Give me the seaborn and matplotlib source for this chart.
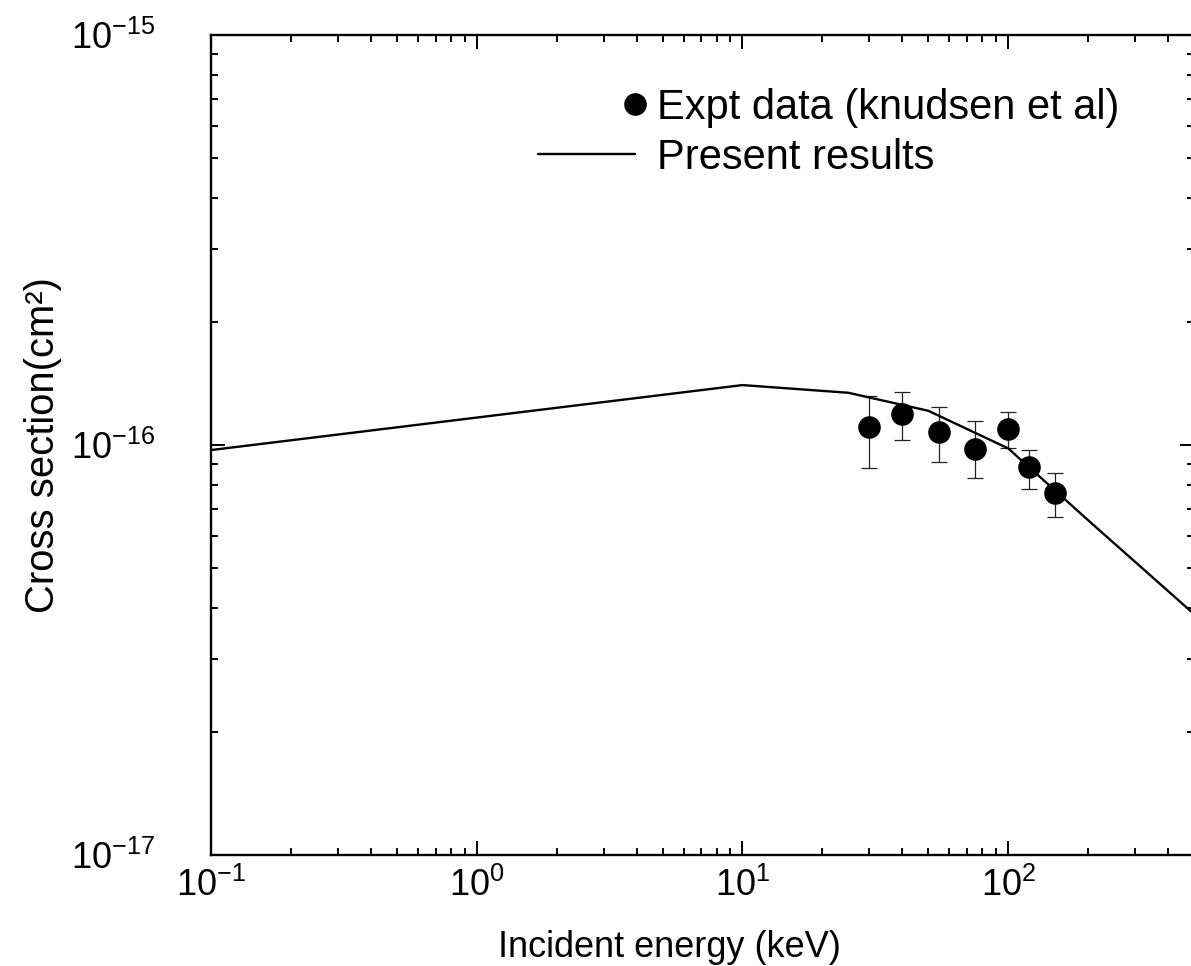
import numpy as np
import matplotlib
matplotlib.use("Agg")
import matplotlib.pyplot as plt
from matplotlib.lines import Line2D
from matplotlib.legend_handler import HandlerBase
from matplotlib.ticker import FixedLocator, LogLocator, NullFormatter
import seaborn as sns

# ---- data ----
theory_energy = [0.1, 10, 25, 50, 100, 200, 500]            # keV
theory_sigma = [0.972e-16, 1.400e-16, 1.341e-16, 1.212e-16, 0.981e-16, 0.655e-16, 0.387e-16]

expt_energy = [30, 40, 55, 75, 100, 120, 150]               # keV
expt_sigma = [1.104e-16, 1.188e-16, 1.077e-16, 0.976e-16, 1.094e-16, 0.884e-16, 0.764e-16]
expt_low = [0.879e-16, 1.028e-16, 0.907e-16, 0.831e-16, 0.982e-16, 0.782e-16, 0.668e-16]
expt_high = [1.318e-16, 1.344e-16, 1.240e-16, 1.146e-16, 1.206e-16, 0.974e-16, 0.856e-16]

x_major_ticks = [0.1, 1, 10, 100]
y_major_ticks = [1e-17, 1e-16, 1e-15]

legend_labels = ["Expt data (knudsen et al)", "Present results"]
x_label = "Incident energy (keV)"
y_label = "Cross section(cm\u00b2)"

# ---- style ----
sns.set_style("ticks")
plt.rcParams["font.family"] = ["Liberation Sans", "DejaVu Sans"]
plt.rcParams["mathtext.fontset"] = "custom"
plt.rcParams["mathtext.rm"] = "Liberation Sans"
plt.rcParams["mathtext.it"] = "Liberation Sans:italic"
plt.rcParams["mathtext.bf"] = "Liberation Sans:bold"
for k in ["text.color", "axes.labelcolor", "xtick.color", "ytick.color", "axes.edgecolor"]:
    plt.rcParams[k] = "black"

FS_TICK, FS_XLAB, FS_LEG, FS_YLAB = 26, 26, 30, 28.8

W, H = 1191, 966
fig = plt.figure(figsize=(W / 100, H / 100), dpi=100)
ax = fig.add_axes([211 / W, (H - 855) / H, (1194 - 211) / W, (855 - 35) / H])
ax.set_xscale("log")
ax.set_yscale("log")

sns.lineplot(x=theory_energy, y=theory_sigma, ax=ax, color="black", lw=1.7, zorder=2)

yerr = [np.array(expt_sigma) - np.array(expt_low), np.array(expt_high) - np.array(expt_sigma)]
ax.errorbar(expt_energy, expt_sigma, yerr=yerr, fmt="none", ecolor="#222222",
            elinewidth=0.9, capsize=6, capthick=0.9, zorder=1)
sns.scatterplot(x=expt_energy, y=expt_sigma, ax=ax, s=265, color="black",
                linewidth=0, zorder=3)

ax.set_xlim(0.1, 500)
ax.set_ylim(1e-17, 1e-15)
ax.xaxis.set_major_locator(FixedLocator(x_major_ticks))
ax.yaxis.set_major_locator(FixedLocator(y_major_ticks))
ax.xaxis.set_minor_locator(LogLocator(base=10, subs=np.arange(2, 10)))
ax.yaxis.set_minor_locator(LogLocator(base=10, subs=np.arange(2, 10)))
ax.xaxis.set_major_formatter(matplotlib.ticker.LogFormatterSciNotation())
ax.yaxis.set_major_formatter(matplotlib.ticker.LogFormatterSciNotation())
ax.yaxis.set_minor_formatter(NullFormatter())
ax.xaxis.set_minor_formatter(NullFormatter())

for side in ["left", "right", "top", "bottom"]:
    ax.spines[side].set_visible(True)
    ax.spines[side].set_linewidth(1.7)
    ax.spines[side].set_color("black")

ax.tick_params(which="both", direction="in", top=True, right=True, width=1.4, color="black")
ax.tick_params(which="major", length=10)
ax.tick_params(which="minor", length=5)
ax.tick_params(axis="x", which="major", labelsize=FS_TICK, pad=9)
ax.tick_params(axis="y", which="major", labelsize=FS_TICK, pad=40)

ax.set_xlabel(x_label, fontsize=FS_XLAB)
ax.set_ylabel(y_label, fontsize=FS_YLAB)
ax.xaxis.set_label_coords(0.466, -0.091)
ax.yaxis.set_label_coords(-0.152, 0.5)


class RightMarkerHandler(HandlerBase):
    def create_artists(self, legend, orig_handle, xdescent, ydescent, width, height,
                       fontsize, trans):
        x = -xdescent + width
        y = -ydescent + height / 2
        m = Line2D([x], [y], ls="none", marker="o", markersize=16.3,
                   color="black", markeredgewidth=0)
        m.set_transform(trans)
        return [m]


h_pts = Line2D([], [], ls="none", marker="o", markersize=16.3, color="black", markeredgewidth=0)
h_line = Line2D([], [], color="black", lw=1.7)
fpx = FS_LEG * 100 / 72
ax.legend([h_pts, h_line], legend_labels, loc="upper left",
          bbox_to_anchor=(538 / W, 1 - 88 / H), bbox_transform=fig.transFigure,
          frameon=False, fontsize=FS_LEG, handlelength=97 / fpx,
          handletextpad=22 / fpx,
          borderpad=0, borderaxespad=0, labelspacing=0.24,
          handler_map={h_pts: RightMarkerHandler()})

fig.savefig("out.png", dpi=100)
